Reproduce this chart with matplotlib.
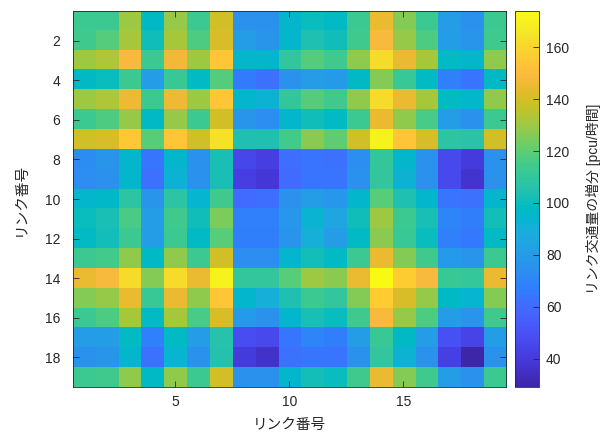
import numpy as np
import matplotlib
matplotlib.use("Agg")
import matplotlib.pyplot as plt
from matplotlib.colors import LinearSegmentedColormap

# parula (MATLAB) colormap anchors
parula_data = [
    [0.2422, 0.1504, 0.6603], [0.2504, 0.1650, 0.7076], [0.2578, 0.1818, 0.7511], [0.2647, 0.1978, 0.7952],
    [0.2706, 0.2147, 0.8364], [0.2751, 0.2342, 0.8710], [0.2783, 0.2559, 0.8991], [0.2803, 0.2782, 0.9221],
    [0.2813, 0.3006, 0.9414], [0.2810, 0.3228, 0.9579], [0.2795, 0.3447, 0.9717], [0.2760, 0.3667, 0.9829],
    [0.2699, 0.3892, 0.9906], [0.2602, 0.4123, 0.9952], [0.2440, 0.4358, 0.9988], [0.2206, 0.4603, 0.9973],
    [0.1963, 0.4847, 0.9892], [0.1834, 0.5074, 0.9798], [0.1786, 0.5289, 0.9682], [0.1764, 0.5499, 0.9520],
    [0.1687, 0.5703, 0.9359], [0.1540, 0.5902, 0.9218], [0.1460, 0.6091, 0.9079], [0.1380, 0.6276, 0.8973],
    [0.1248, 0.6459, 0.8883], [0.1113, 0.6635, 0.8763], [0.0952, 0.6798, 0.8598], [0.0689, 0.6948, 0.8394],
    [0.0297, 0.7082, 0.8163], [0.0036, 0.7203, 0.7917], [0.0067, 0.7312, 0.7660], [0.0433, 0.7411, 0.7394],
    [0.0964, 0.7500, 0.7120], [0.1408, 0.7584, 0.6842], [0.1717, 0.7670, 0.6554], [0.1938, 0.7758, 0.6251],
    [0.2161, 0.7843, 0.5923], [0.2470, 0.7918, 0.5567], [0.2906, 0.7973, 0.5188], [0.3406, 0.8008, 0.4789],
    [0.3909, 0.8029, 0.4354], [0.4456, 0.8024, 0.3909], [0.5044, 0.7993, 0.3480], [0.5616, 0.7942, 0.3045],
    [0.6174, 0.7876, 0.2612], [0.6720, 0.7793, 0.2227], [0.7242, 0.7698, 0.1910], [0.7738, 0.7598, 0.1646],
    [0.8203, 0.7498, 0.1535], [0.8634, 0.7406, 0.1596], [0.9035, 0.7330, 0.1774], [0.9393, 0.7288, 0.2100],
    [0.9728, 0.7298, 0.2394], [0.9956, 0.7434, 0.2371], [0.9970, 0.7659, 0.2199], [0.9952, 0.7893, 0.2028],
    [0.9892, 0.8136, 0.1885], [0.9786, 0.8386, 0.1766], [0.9676, 0.8639, 0.1643], [0.9610, 0.8890, 0.1537],
    [0.9597, 0.9135, 0.1423], [0.9628, 0.9373, 0.1265], [0.9691, 0.9606, 0.1064], [0.9769, 0.9839, 0.0805],
]
parula = LinearSegmentedColormap.from_list("parula", parula_data, N=256)

# Link flow increments [pcu/h], rows/cols = link number 1..19
row01 = [113, 113, 130, 97, 129, 113, 139, 76, 76, 95, 100, 98, 113, 145, 126, 113, 80, 76, 113]
row02 = [114, 118, 132, 101, 132, 117, 141, 80, 77, 95, 104, 101, 114, 149, 129, 117, 80, 77, 114]
row03 = [130, 133, 149, 113, 147, 130, 154, 95, 95, 110, 118, 114, 128, 162, 145, 132, 98, 95, 128]
row04 = [97, 100, 113, 80, 112, 98, 118, 66, 62, 76, 80, 79, 97, 126, 112, 98, 68, 63, 97]
row05 = [130, 133, 146, 113, 146, 130, 154, 95, 92, 110, 118, 114, 128, 162, 145, 132, 98, 95, 128]
row06 = [113, 117, 129, 97, 129, 113, 139, 77, 74, 95, 101, 98, 113, 145, 128, 116, 80, 76, 113]
row07 = [139, 141, 155, 119, 154, 139, 164, 104, 104, 115, 127, 120, 139, 171, 154, 141, 108, 107, 139]
row08 = [73, 77, 95, 64, 95, 76, 103, 45, 42, 61, 63, 62, 74, 110, 95, 76, 46, 40, 76]
row09 = [74, 76, 95, 62, 92, 76, 103, 42, 39, 60, 64, 63, 75, 110, 92, 76, 46, 37, 76]
row10 = [95, 96, 108, 77, 108, 94, 114, 60, 61, 76, 80, 78, 95, 119, 104, 95, 63, 62, 95]
row11 = [100, 103, 116, 81, 114, 101, 125, 68, 68, 78, 93, 85, 101, 130, 113, 103, 70, 67, 102]
row12 = [98, 102, 113, 80, 113, 98, 119, 67, 67, 77, 90, 80, 98, 127, 112, 100, 68, 65, 98]
row13 = [113, 115, 128, 97, 128, 113, 139, 74, 74, 95, 102, 98, 113, 145, 126, 114, 79, 77, 113]
row14 = [145, 149, 162, 126, 162, 145, 171, 110, 110, 119, 130, 127, 145, 174, 157, 149, 112, 111, 145]
row15 = [126, 129, 145, 112, 145, 128, 154, 95, 90, 104, 113, 110, 126, 157, 141, 129, 97, 94, 126]
row16 = [113, 117, 132, 98, 132, 116, 141, 79, 76, 95, 103, 100, 114, 149, 129, 117, 80, 77, 114]
row17 = [81, 81, 98, 68, 98, 80, 106, 48, 46, 64, 70, 67, 80, 112, 97, 80, 49, 44, 80]
row18 = [76, 77, 95, 62, 94, 76, 105, 40, 36, 62, 64, 63, 76, 110, 92, 76, 43, 29, 76]
row19 = [113, 114, 128, 97, 128, 113, 139, 76, 76, 95, 102, 100, 114, 145, 126, 114, 81, 76, 113]

rows = [row01, row02, row03, row04, row05, row06, row07, row08, row09, row10,
        row11, row12, row13, row14, row15, row16, row17, row18, row19]
M = np.array(rows, dtype=float)

xticks = [5, 10, 15]
yticks = [2, 4, 6, 8, 10, 12, 14, 16, 18]
cbar_ticks = [40, 60, 80, 100, 120, 140, 160]
xlabel = "リンク番号"
ylabel = "リンク番号"
cbar_label = "リンク交通量の増分 [pcu/時間]"

fam = ["Liberation Sans", "Noto Sans CJK JP", "DejaVu Sans"]
plt.rcParams["font.family"] = fam

fig = plt.figure(figsize=(6.03, 4.32), dpi=100)
ax = fig.add_axes([0.1206, 0.104, 0.7184, 0.8705])
cax = fig.add_axes([0.854, 0.104, 0.0398, 0.8705])

n = M.shape[0]
im = ax.imshow(M, cmap=parula, aspect="auto", interpolation="nearest",
               extent=(0.5, n + 0.5, n + 0.5, 0.5))
ax.set_xticks(xticks)
ax.set_yticks(yticks)
ax.tick_params(direction="in", top=True, right=True, labelsize=10,
               length=4, width=0.6, color="#262626", labelcolor="#262626")
ax.tick_params(axis="y", pad=9)
ax.tick_params(axis="x", pad=6)
for s in ax.spines.values():
    s.set_color("#262626")
    s.set_linewidth(0.6)
ax.set_xlabel(xlabel, fontsize=10.5, color="#262626", labelpad=6)
ax.set_ylabel(ylabel, fontsize=10.5, color="#262626", labelpad=12)

cb = fig.colorbar(im, cax=cax)
cb.set_ticks(cbar_ticks)
cb.ax.tick_params(direction="in", labelsize=10, length=4, width=0.6, pad=5,
                  color="#262626", labelcolor="#262626")
cb.outline.set_edgecolor("#262626")
cb.outline.set_linewidth(0.6)
cb.set_label(cbar_label, fontsize=10, color="#262626", labelpad=12)

fig.savefig("out.png", dpi=100)
